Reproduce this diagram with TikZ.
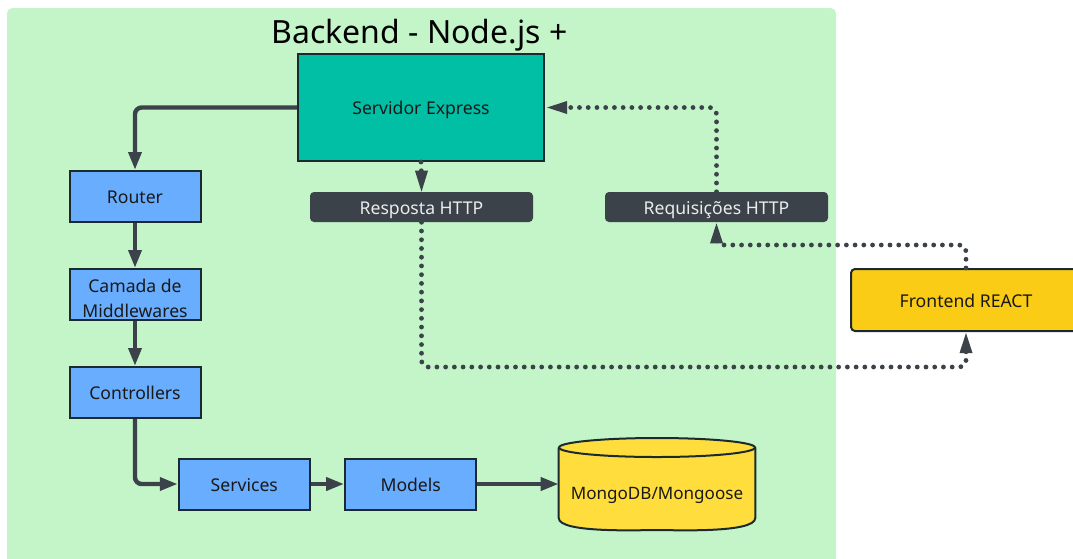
\documentclass[tikz,border=0pt]{standalone}
\usepackage{fontspec}
\setmainfont{Noto Sans}
\usetikzlibrary{arrows.meta,calc}
\definecolor{bgreen}{HTML}{C3F5C8}
\definecolor{teal2}{HTML}{00BFA5}
\definecolor{blue2}{HTML}{69ADFF}
\definecolor{dark2}{HTML}{3B4249}
\definecolor{edge2}{HTML}{1A2A30}
\definecolor{front2}{HTML}{FACC15}
\definecolor{mongo2}{HTML}{FFDD3D}
\tikzset{
  x=0.75pt,y=-0.75pt,
  oneline/.style={text height=11.5pt,text depth=0.3pt},
  box/.style={draw=edge2,line width=1.5pt,rectangle,inner sep=0pt,align=center,font=\fontsize{13.2}{18.75}\selectfont,text=black!90},
  bluebox/.style={box,fill=blue2,minimum width=98.25pt,minimum height=38.25pt},
  darkbox/.style={rectangle,rounded corners=3pt,fill=dark2,text=white!92!black,minimum width=167.25pt,minimum height=22.5pt,inner sep=0pt,font=\fontsize{13.2}{15}\selectfont,oneline},
  solidflow/.style={draw=dark2,line width=3.3pt,rounded corners=5pt,-{Triangle[length=13.5pt,width=9.5pt]}},
  dotflow/.style={draw=dark2,line width=3.6pt,line cap=round,dash pattern=on 0pt off 6.55pt,rounded corners=5pt},
  dottip/.style={fill=dark2,draw=none},
}
\begin{document}
\begin{tikzpicture}
\useasboundingbox (0,0) rectangle (1073,558);
% background panel
\fill[bgreen,rounded corners=4pt] (7,570) -- (7,8) -- (836,8) -- (836,570) -- cycle;
\node[font=\fontsize{24}{28}\selectfont,text=black] (title) at (419.5,35) {Backend - Node.js +};
% nodes
\node[box,oneline,fill=teal2,minimum width=184.5pt,minimum height=80.25pt] (servidor) at (421,107.5) {Servidor Express};
\node[bluebox,oneline] (router) at (135,196.5) {Router};
\node[bluebox,text height=34.3pt,text depth=0.3pt] (camada) at (135,294.5) {Camada de\\Middlewares};
\node[bluebox,oneline] (controllers) at (135,392.5) {Controllers};
\node[bluebox,oneline] (services) at (244.3,484) {Services};
\node[bluebox,oneline] (models) at (410.7,484) {Models};
\node[darkbox] (resposta) at (421.5,207) {Resposta HTTP};
\node[darkbox] (requisicoes) at (716.5,207) {Requisições HTTP};
\node[box,oneline,fill=front2,rounded corners=3pt,minimum width=172.5pt,minimum height=46.5pt] (frontend) at (966,300) {Frontend REACT};
% database
\node[minimum width=147pt,minimum height=69pt,inner sep=0pt] (mongo) at (657,484) {};
\draw[draw=edge2,line width=1.5pt,fill=mongo2]
  (mongo.west |- 0,447.5) -- (mongo.west |- 0,518) to[out=-90,in=180,looseness=0.4] (657,530)
  to[out=0,in=-90,looseness=0.4] (mongo.east |- 0,518) -- (mongo.east |- 0,447.5);
\draw[draw=edge2,line width=1.5pt,fill=mongo2] (657,447.5) ellipse [x radius=98,y radius=9.5];
\node[font=\fontsize{12.8}{15}\selectfont,text=black!90,oneline] (mongolabel) at (657,492.5) {MongoDB/Mongoose};
% solid connectors
\draw[solidflow] (servidor.west) -| (router.north);
\draw[solidflow] (router.south) -- (camada.north);
\draw[solidflow] (camada.south) -- (controllers.north);
\draw[solidflow] (controllers.south) |- (services.west);
\draw[solidflow] (services.east) -- (models.west);
\draw[solidflow] (models.east) -- (mongo.west);
% dotted connectors
\coordinate (lowrun) at (700,367);
\coordinate (highrun) at (800,245);
\coordinate (upper) at (630,107.5);
\draw[dotflow] (servidor.south) -- ($(resposta.north)+(0,-15)$);
\fill[dottip] (resposta.north) -- ++(-6.5,-21) -- ++(13,0) -- cycle;
\draw[dotflow] (resposta.south) |- (lowrun) -| ($(frontend.south)+(0,18)$);
\fill[dottip] ($(frontend.south)+(0,1)$) -- ++(-6.5,20) -- ++(13,0) -- cycle;
\draw[dotflow] (frontend.north) |- (highrun) -| ($(requisicoes.south)+(0,18)$);
\fill[dottip] ($(requisicoes.south)+(0,1)$) -- ++(-6.5,20) -- ++(13,0) -- cycle;
\draw[dotflow] (requisicoes.north) |- (upper) -- ($(servidor.east)+(20,0)$);
\fill[dottip] ($(servidor.east)+(2,0)$) -- ++(20,-6.5) -- ++(0,13) -- cycle;
\end{tikzpicture}
\end{document}
